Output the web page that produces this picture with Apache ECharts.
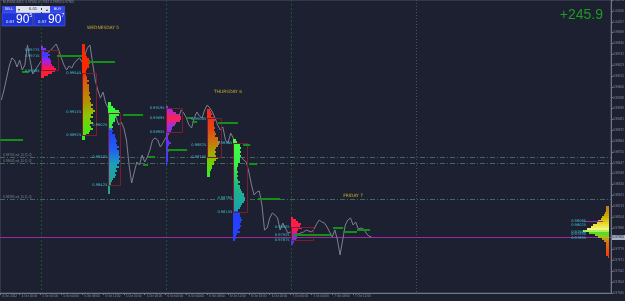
<!DOCTYPE html>
<html>
<head>
<meta charset="utf-8">
<script src="https://cdn.jsdelivr.net/npm/echarts@6/dist/echarts.min.js"></script>
<style>
  html, body { margin: 0; padding: 0; background: #1d2030; }
  #chart { width: 625px; height: 301px; }
</style>
</head>
<body>
<div id="chart"></div>
<script>
// hours counted from 5 Oct 2022 00:00, one close every 30 minutes
const closeStart = -7.5
const closeStep = 0.5
const closes = [
  0.99275, 0.99375, 0.99495, 0.99615, 0.99695, 0.99675, 0.99605, 0.99675, 0.99575, 0.99625, 0.99825, 0.99675, 0.99535, 0.99575, 0.99615,
  0.99655, 0.99695, 0.99725, 0.99755, 0.99775, 0.99805, 0.99835, 0.99775, 0.99695, 0.99625,
  0.99575, 0.99615, 0.99595, 0.99645, 0.99675, 0.99695, 0.99655, 0.99725, 0.99795, 0.99825,
  0.99645, 0.99475, 0.99375, 0.99295, 0.99355, 0.99245, 0.99195, 0.99135, 0.99155, 0.99105,
  0.99025, 0.99055, 0.98995, 0.98875, 0.98625, 0.98445, 0.98555, 0.98655, 0.98625, 0.98725,
  0.98655, 0.98705, 0.98775, 0.98875, 0.98895, 0.98875, 0.98805, 0.98845, 0.98895, 0.98925,
  0.98995, 0.99025, 0.99055, 0.99095, 0.99175, 0.99145, 0.99095, 0.99025, 0.98995, 0.99095,
  0.99155, 0.99115, 0.99095, 0.99175, 0.99225, 0.99195, 0.99155, 0.99095, 0.99025, 0.98975,
  0.99005, 0.98875, 0.98845, 0.98945, 0.98895, 0.98775, 0.98725, 0.98705, 0.98675, 0.98655,
  0.98555, 0.98425, 0.98325, 0.98355, 0.98365, 0.98225, 0.97975, 0.97995, 0.98095, 0.98145,
  0.98125, 0.98095, 0.97975, 0.98045, 0.97995, 0.97945, 0.97955, 0.97955, 0.97915, 0.97935,
  0.97945, 0.97955, 0.97975, 0.97965, 0.97955, 0.97985, 0.98035, 0.98075, 0.98055, 0.98045,
  0.98005, 0.97955, 0.97905, 0.97975, 0.97875, 0.97725, 0.97875, 0.98025, 0.98075, 0.98095,
  0.98025, 0.98055, 0.97985, 0.97995, 0.97985, 0.97945, 0.97915, 0.97905
]

const timeTicks = [-4, 0, 4, 8, 12, 16, 20, 24, 28, 32, 36, 40, 44, 48, 52, 56, 60]
const dayLines = [0, 24, 48]
const weekLines = [72]
const dayNames = ['WEDNESDAY 5', 'THURSDAY 6', 'FRIDAY 7']
const dayNameHour = [12, 36, 60]
const dayNamePrice = [0.99995, 0.99355, 0.98315]

const bid = 0.97905
const title = 'EURUSD,M15  0.97940 0.97967 0.97892 0.97905'
const profit = '+245.9'
const levelLines = [0.98705, 0.98645, 0.98285]

// [from hour, to hour, price]
const pocLines = [
  [-7.7, -3.35, 0.98875], [-3.55, -2.2, 0.99555], [3.15, 7.95, 0.99715], [9.1, 14.3, 0.99655],
  [15.85, 19.7, 0.99125], [19.7, 20.65, 0.98625], [20.65, 22.0, 0.98705], [24.3, 28.15, 0.98775],
  [28.15, 29.3, 0.99095], [29.1, 30.05, 0.99055], [34.1, 37.9, 0.99045], [38.9, 40.25, 0.98825],
  [40.05, 41.55, 0.98635], [41.75, 46.0, 0.98285], [48.5, 55.95, 0.97925], [56.15, 58.1, 0.97995],
  [58.1, 60.75, 0.97955], [60.75, 63.25, 0.97975]
]
const sessionLines = [[104.2, 108.0, 0.98065]]

// market profiles: start hour, side, top row price, TPO count per 0.0002 row
const rowStep = 0.0002
const tpoHours = 0.25
const profileStart = [0, 8, 13, 24, 32, 37, 48, 109.1]
const profileSide = [1, 1, 1, 1, 1, 1, 1, -1]
const profileTop = [0.99805, 0.99825, 0.99245, 0.99205, 0.99175, 0.98875, 0.98095, 0.98205]
const profileTpo = [
  [2, 4, 3, 5, 7, 6, 7, 8, 8, 9, 10, 12, 11, 9, 6, 3],
  [2, 2, 2, 2, 2, 3, 4, 5, 6, 6, 5, 5, 4, 3, 3, 3, 4, 4, 5, 4, 5, 5, 5, 5, 6, 5, 6, 7, 6, 7, 8, 7, 8, 10, 8, 7, 8, 6, 7, 8, 6, 7, 8, 6, 5, 3, 2, 2],
  [2, 2, 4, 5, 8, 9, 8, 6, 5, 5, 4, 3, 4, 3, 4, 3, 5, 5, 6, 7, 6, 7, 8, 7, 8, 8, 8, 9, 8, 9, 8, 7, 8, 6, 7, 5, 6, 5, 4, 3, 2, 2, 1, 1, 1, 1],
  [2, 5, 6, 8, 10, 12, 12, 11, 8, 7, 5, 5, 4, 2, 2, 2, 2, 3, 4, 3, 2, 2, 3, 2, 2, 2, 2, 2, 1, 1],
  [2, 3, 4, 3, 5, 6, 5, 5, 5, 6, 5, 6, 7, 6, 8, 8, 10, 9, 8, 7, 6, 7, 6, 7, 8, 7, 5, 5, 4, 4, 3, 2, 2, 2],
  [2, 3, 5, 5, 6, 5, 6, 5, 6, 5, 5, 5, 4, 4, 3, 3, 4, 3, 4, 3, 4, 5, 4, 5, 5, 6, 7, 8, 8, 9, 9, 8, 7, 6, 5, 4, 4, 5, 5, 6, 7, 6, 5, 6, 5, 4, 5, 3, 2, 2, 1],
  [2, 4, 6, 8, 7, 9, 6, 5, 6, 5, 5, 4, 3, 2],
  [2, 2, 2, 3, 4, 5, 6, 8, 9, 12, 14, 17, 20, 15, 11, 8, 5, 4, 2, 2, 2, 2, 2, 2, 2, 1]
]
const vaHigh = [0.99775, 0.99545, 0.99145, 0.99195, 0.99095, 0.98845, 0.98005]
const vaLow = [0.99575, 0.98925, 0.98425, 0.98955, 0.98705, 0.98155, 0.97875]
const vaTpo = [13, 11, 9, 12, 11, 11, 17]
const labelHour = [0, 8, 13, 24, 32, 37, 48, 104.9]
const profileLabels = [
  [0.99775, 0.99715, 0.99565],
  [0.99545, 0.99155, 0.98925],
  [0.99025, 0.98705, 0.98425],
  [0.99195, 0.99095, 0.98955],
  [0.99085, 0.98825, 0.98705],
  [0.98845, 0.98295, 0.98155],
  [0.98005, 0.97925, 0.97875],
  [0.98065, 0.98025, 0.97955, 0.97935, 0.97895]
]

// colour of the rows, top to bottom
const profileColors = [
  [[0, '#9b30ff'], [0.15, '#3c3cff'], [0.3, '#3c3cff'], [0.45, '#a020f0'], [0.6, '#d01890'], [0.72, '#ff1840'], [1, '#ff2030']],
  [[0, '#ff2400'], [0.3, '#ff2a00'], [0.4, '#d8600c'], [0.6, '#b49000'], [0.75, '#88c800'], [1, '#30f020']],
  [[0, '#38ff30'], [0.27, '#30e850'], [0.3, '#2040ff'], [0.52, '#2060f0'], [0.68, '#1aa0b8'], [1, '#20a880']],
  [[0, '#9030ff'], [0.2, '#ff2050'], [0.32, '#a030e0'], [0.6, '#6a30f0'], [1, '#3a40ff']],
  [[0, '#ff2020'], [0.3, '#e04a10'], [0.5, '#c87810'], [0.65, '#a8a800'], [0.8, '#70d000'], [1, '#30f030']],
  [[0, '#40ff40'], [0.25, '#38f048'], [0.45, '#20b880'], [0.7, '#18a0b0'], [0.72, '#2040ff'], [1, '#2840ff']],
  [[0, '#ff2040'], [0.45, '#ff1850'], [0.6, '#c020a0'], [0.8, '#8030e0'], [1, '#3040ff']],
  [[0, '#c87820'], [0.2, '#c8b000'], [0.35, '#e8e030'], [0.45, '#f4f488'], [0.52, '#50e020'], [0.6, '#a0c020'], [0.7, '#e07010'], [1, '#ff3010']]
]

const pxPerHour = 5.21
const originPx = 40.5
const plotW = 611
const plotH = 293
const xMin = -originPx / pxPerHour
const xMax = xMin + plotW / pxPerHour
const small = 'DejaVu Sans'
const axisFont = 'Liberation Sans'

function hex2rgb (h) {
  return [parseInt(h.slice(1, 3), 16), parseInt(h.slice(3, 5), 16), parseInt(h.slice(5, 7), 16)]
}
function colorAt (stops, t) {
  for (let i = 1; i < stops.length; i++) {
    if (t <= stops[i][0]) {
      const a = hex2rgb(stops[i - 1][1])
      const b = hex2rgb(stops[i][1])
      const f = (t - stops[i - 1][0]) / Math.max(stops[i][0] - stops[i - 1][0], 1e-6)
      return 'rgb(' + a.map((v, k) => Math.round(v + (b[k] - v) * f)).join(',') + ')'
    }
  }
  return stops[stops.length - 1][1]
}
function hourLabel (v) {
  if (v < -6) return '4 Oct 2022'
  const day = 5 + Math.floor(v / 24)
  const hour = ((v % 24) + 24) % 24
  return day + ' Oct ' + (hour < 10 ? '0' : '') + hour + ':00'
}

const lineData = closes.map((c, i) => [closeStart + i * closeStep, c])

const rowData = []
const rowColor = []
profileTop.forEach((top, p) => {
  const n = profileTpo[p].length
  profileTpo[p].forEach((tpo, i) => {
    rowData.push([profileStart[p], top - i * rowStep, profileStart[p] + profileSide[p] * tpo * tpoHours])
    rowColor.push(colorAt(profileColors[p], i / (n - 1)))
  })
})
const boxData = vaHigh.map((h, i) => [profileStart[i], h, profileStart[i] + vaTpo[i] * tpoHours, vaLow[i]])
const labelData = []
profileLabels.forEach((arr, p) => arr.forEach(v => labelData.push([labelHour[p], v])))
const xLabelAt = [xMin + 0.05].concat(timeTicks)

const chart = echarts.init(document.getElementById('chart'))

chart.setOption({
  backgroundColor: '#1d2030',
  animation: false,
  grid: {
    left: 0,
    top: 0,
    width: plotW,
    height: plotH,
    outerBoundsMode: 'none',
    containLabel: false,
    show: true,
    borderColor: '#4a5062',
    borderWidth: 1
  },
  xAxis: {
    type: 'value',
    min: xMin,
    max: xMax,
    splitLine: { show: false },
    axisLine: { show: true, onZero: false, lineStyle: { color: '#70768a' } },
    axisTick: { show: true, customValues: xLabelAt, length: 2, lineStyle: { color: '#70768a' } },
    axisLabel: {
      customValues: xLabelAt,
      showMinLabel: true,
      hideOverlap: false,
      formatter: hourLabel,
      color: '#8a90a2',
      fontSize: 3,
      fontFamily: axisFont,
      align: 'left',
      margin: 2,
      padding: [0, 0, 0, 2]
    }
  },
  yAxis: {
    type: 'value',
    position: 'right',
    min: 0.97345,
    max: 1.00275,
    interval: 0.001085,
    splitLine: { show: false },
    axisLine: { show: true, onZero: false, lineStyle: { color: '#70768a' } },
    axisTick: { show: true, length: 2, lineStyle: { color: '#70768a' } },
    axisLabel: {
      formatter: v => v.toFixed(5),
      showMaxLabel: false,
      color: '#8a90a2',
      fontSize: 3,
      fontFamily: axisFont,
      margin: 2
    }
  },
  graphic: [
    { type: 'text', left: 3, top: 1, style: { text: title, fill: '#8a90a2', font: '3.2px ' + axisFont } },
    { type: 'rect', shape: { x: 2, y: 6, width: 14, height: 7 }, style: { fill: '#3447e6' } },
    { type: 'text', x: 9, y: 9.5, style: { text: 'SELL', fill: '#ffffff', font: '3.6px ' + small, textAlign: 'center', textVerticalAlign: 'middle' } },
    { type: 'rect', shape: { x: 16, y: 6, width: 34, height: 7 }, style: { fill: '#dfe2ee' } },
    { type: 'text', x: 19, y: 9.5, style: { text: '▾', fill: '#333', font: '4px ' + small, textAlign: 'center', textVerticalAlign: 'middle' } },
    { type: 'text', x: 33, y: 9.5, style: { text: '0.01', fill: '#222', font: '3.8px ' + small, textAlign: 'center', textVerticalAlign: 'middle' } },
    { type: 'text', x: 47, y: 9.5, style: { text: '▴', fill: '#333', font: '4px ' + small, textAlign: 'center', textVerticalAlign: 'middle' } },
    { type: 'rect', shape: { x: 50, y: 6, width: 15, height: 7 }, style: { fill: '#3447e6' } },
    { type: 'text', x: 57.5, y: 9.5, style: { text: 'BUY', fill: '#ffffff', font: '3.6px ' + small, textAlign: 'center', textVerticalAlign: 'middle' } },
    { type: 'rect', shape: { x: 2, y: 13, width: 31, height: 13 }, style: { fill: '#1f32d8', stroke: '#5a6af0', lineWidth: 0.5 } },
    { type: 'rect', shape: { x: 34, y: 13, width: 31, height: 13 }, style: { fill: '#1f32d8', stroke: '#5a6af0', lineWidth: 0.5 } },
    { type: 'text', x: 6, y: 22, style: { text: '0.97', fill: '#ffffff', font: '3.8px ' + small, textVerticalAlign: 'middle' } },
    { type: 'text', x: 16, y: 19.5, style: { text: '90', fill: '#ffffff', font: '12px "Liberation Sans"', textVerticalAlign: 'middle' } },
    { type: 'text', x: 29.5, y: 15.5, style: { text: '5', fill: '#ffffff', font: '5px "Liberation Sans"', textVerticalAlign: 'middle' } },
    { type: 'text', x: 38, y: 22, style: { text: '0.97', fill: '#ffffff', font: '3.8px ' + small, textVerticalAlign: 'middle' } },
    { type: 'text', x: 48, y: 19.5, style: { text: '90', fill: '#ffffff', font: '12px "Liberation Sans"', textVerticalAlign: 'middle' } },
    { type: 'text', x: 61.5, y: 15.5, style: { text: '7', fill: '#ffffff', font: '5px "Liberation Sans"', textVerticalAlign: 'middle' } },
    { type: 'text', x: 603, y: 15, style: { text: profit, fill: '#1e9a22', font: '14px "Liberation Sans"', textAlign: 'right', textVerticalAlign: 'middle' } }
  ],
  series: [
    {
      // day separators
      type: 'custom',
      z: 1,
      data: dayLines.map(h => [h, 0]).concat(weekLines.map(h => [h, 1])),
      encode: { x: 0 },
      renderItem (params, api) {
        const x = Math.round(api.coord([api.value(0), 1])[0]) + 0.5
        const week = api.value(1) === 1
        return {
          type: 'line',
          shape: { x1: x, y1: 0, x2: x, y2: plotH },
          style: { stroke: week ? '#4a5062' : '#1b5230', lineWidth: 1, lineDash: week ? [1, 2] : [2, 2] }
        }
      }
    },
    {
      // support / resistance levels
      type: 'custom',
      z: 1,
      data: levelLines.map(p => [p]),
      encode: { y: 0 },
      renderItem (params, api) {
        const y = Math.round(api.coord([0, api.value(0)])[1]) + 0.5
        return {
          type: 'group',
          children: [
            { type: 'line', shape: { x1: 0, y1: y, x2: plotW, y2: y }, style: { stroke: '#3d6a5c', lineWidth: 1, lineDash: [5, 2, 1, 2] } },
            { type: 'text', style: { x: 3, y: y - 1, text: api.value(0).toFixed(5) + ' ed_10 [1.0]', fill: '#7c828e', font: '3.2px ' + axisFont, textVerticalAlign: 'bottom' } }
          ]
        }
      }
    },
    {
      // bid line and its price tag on the axis
      type: 'custom',
      z: 2,
      clip: false,
      data: [[bid]],
      encode: { y: 0 },
      renderItem (params, api) {
        const y = Math.round(api.coord([0, api.value(0)])[1]) + 0.5
        return {
          type: 'group',
          children: [
            { type: 'line', shape: { x1: 0, y1: y, x2: plotW, y2: y }, style: { stroke: '#9a2aa0', lineWidth: 1 } },
            { type: 'rect', shape: { x: plotW + 1, y: y - 2.5, width: 13, height: 5 }, style: { fill: '#a6b0c0' } },
            { type: 'text', style: { x: plotW + 1.5, y: y, text: api.value(0).toFixed(5), fill: '#1d2030', font: '3.2px ' + axisFont, textVerticalAlign: 'middle' } }
          ]
        }
      }
    },
    {
      type: 'line',
      z: 2,
      data: lineData,
      symbol: 'none',
      lineStyle: { color: '#7b8090', width: 1 }
    },
    {
      // profile rows
      type: 'custom',
      z: 3,
      data: rowData,
      encode: { x: [0, 2], y: 1 },
      renderItem (params, api) {
        const a = api.coord([api.value(0), api.value(1) + rowStep / 2])
        const b = api.coord([api.value(2), api.value(1) - rowStep / 2])
        const x0 = Math.round(Math.min(a[0], b[0]))
        const x1 = Math.round(Math.max(a[0], b[0]))
        return {
          type: 'rect',
          shape: { x: x0, y: Math.round(a[1]), width: Math.max(x1 - x0, 1), height: Math.round(b[1]) - Math.round(a[1]) },
          style: { fill: rowColor[params.dataIndex] }
        }
      }
    },
    {
      // value area boxes
      type: 'custom',
      z: 4,
      data: boxData,
      encode: { x: [0, 2], y: [1, 3] },
      renderItem (params, api) {
        const a = api.coord([api.value(0), api.value(1)])
        const b = api.coord([api.value(2), api.value(3)])
        return {
          type: 'rect',
          shape: { x: Math.round(a[0]) + 0.5, y: Math.round(a[1]) + 0.5, width: Math.round(b[0] - a[0]), height: Math.round(b[1] - a[1]) },
          style: { fill: 'none', stroke: '#7c1c2e', lineWidth: 1 }
        }
      }
    },
    {
      // POC extensions
      type: 'custom',
      z: 4,
      data: pocLines,
      encode: { x: [0, 1], y: 2 },
      renderItem (params, api) {
        const a = api.coord([api.value(0), api.value(2)])
        const b = api.coord([api.value(1), api.value(2)])
        const y = Math.round(a[1])
        return { type: 'line', shape: { x1: a[0], y1: y, x2: b[0], y2: y }, style: { stroke: '#14901a', lineWidth: 2 } }
      }
    },
    {
      type: 'custom',
      z: 4,
      data: sessionLines,
      encode: { x: [0, 1], y: 2 },
      renderItem (params, api) {
        const a = api.coord([api.value(0), api.value(2)])
        const b = api.coord([api.value(1), api.value(2)])
        const y = Math.round(a[1]) + 0.5
        return { type: 'line', shape: { x1: a[0], y1: y, x2: b[0], y2: y }, style: { stroke: '#9a2aa0', lineWidth: 1 } }
      }
    },
    {
      // profile price labels
      type: 'custom',
      z: 5,
      data: labelData,
      encode: { x: 0, y: 1 },
      renderItem (params, api) {
        const c = api.coord([api.value(0), api.value(1)])
        return {
          type: 'text',
          style: { x: c[0] - 1, y: c[1], text: api.value(1).toFixed(5), fill: '#3ec4d4', font: '3.6px ' + small, textAlign: 'right', textVerticalAlign: 'middle' }
        }
      }
    },
    {
      // day names
      type: 'custom',
      z: 5,
      data: dayNames.map((n, i) => [dayNameHour[i], dayNamePrice[i]]),
      encode: { x: 0, y: 1 },
      renderItem (params, api) {
        const c = api.coord([api.value(0), api.value(1)])
        return {
          type: 'text',
          style: { x: c[0], y: c[1], text: dayNames[params.dataIndex], fill: '#c4ae2a', font: '4.4px ' + small, textAlign: 'center', textVerticalAlign: 'middle' }
        }
      }
    }
  ]
})
</script>
</body>
</html>
